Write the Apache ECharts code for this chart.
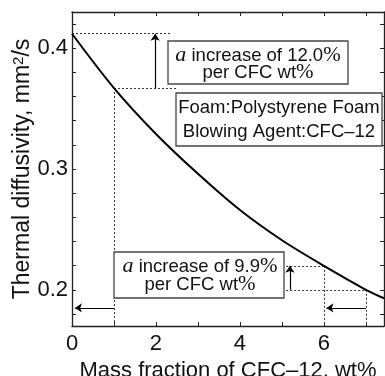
<!DOCTYPE html>
<html>
<head>
<meta charset="utf-8">
<script src="https://cdn.jsdelivr.net/npm/echarts@6/dist/echarts.min.js"></script>
<style>
html, body { margin: 0; padding: 0; background: #fff; }
#chart { width: 385px; height: 376px; }
</style>
</head>
<body>
<div id="chart"></div>
<script>
// values
var massFraction = [0, 1, 2, 3, 4, 5, 6, 7, 7.43];
var diffusivity = [0.412, 0.367, 0.329, 0.296, 0.266, 0.241, 0.2198, 0.200, 0.193];
var xTickValues = [1, 2, 3, 4, 5, 6, 7];
var xLabelValues = [0, 2, 4, 6];
var yTickValues = [0.18, 0.2, 0.22, 0.24, 0.26, 0.28, 0.3, 0.32, 0.34, 0.36, 0.38, 0.4, 0.42];
var yLabelValues = [0.2, 0.3, 0.4];

var xMin = 0, xMax = 7.43, yMin = 0.17, yMax = 0.43;
var arrowLevel = 0.185;

var chart = echarts.init(document.getElementById('chart'), null, { renderer: 'canvas' });

var d0 = diffusivity[0], d1 = diffusivity[1], d6 = diffusivity[6], d7 = diffusivity[7];

// dotted guide lines
var dotted = [
	[[0, d0], [2.38, d0]],
	[[1, d1], [2.5, d1]],
	[[1, d1], [1, yMin]],
	[[5.1, d6], [6, d6]],
	[[5.1, d7], [7, d7]],
	[[6, d6], [6, yMin]],
	[[7, d7], [7, yMin]]
];
// arrows
var arrows = [
	[[1.98, d1], [1.98, d0]],
	[[5.19, d7], [5.19, d6]],
	[[1, arrowLevel], [0.07, arrowLevel]],
	[[7, arrowLevel], [6.06, arrowLevel]]
];

function toMark(list) {
	return list.map(function (seg) {
		return [{ coord: seg[0] }, { coord: seg[1] }];
	});
}

var curve = massFraction.map(function (x, i) { return [x, diffusivity[i]]; });

var sans = 'Liberation Sans, Arial, sans-serif';
var serif = 'Liberation Serif, Times New Roman, serif';
var ink = '#111';

function frameAxis(pos, isX) {
	return {
		type: 'value',
		position: pos,
		min: isX ? xMin : yMin,
		max: isX ? xMax : yMax,
		axisLine: { show: true, onZero: false, lineStyle: { color: '#222', width: 1.3 } },
		axisTick: { show: true, inside: true, length: 4, customValues: isX ? xTickValues : yTickValues, lineStyle: { color: '#222', width: 1 } },
		axisLabel: { show: false },
		splitLine: { show: false }
	};
}

var bottomX = frameAxis('bottom', true);
bottomX.axisLabel = {
	show: true, customValues: xLabelValues, fontFamily: sans, fontSize: 22, color: ink, margin: 7
};
bottomX.name = 'Mass fraction of CFC\u201312, wt%';
bottomX.nameLocation = 'middle';
bottomX.nameGap = 34;
bottomX.nameMoveOverlap = false;
bottomX.nameTextStyle = { fontFamily: sans, fontSize: 22, color: ink };

var leftY = frameAxis('left', false);
leftY.axisLabel = {
	show: true, customValues: yLabelValues, fontFamily: sans, fontSize: 22, color: ink, margin: 4,
	formatter: function (v) { return v.toFixed(1); }
};
leftY.name = 'Thermal diffusivity, mm{sup|2}/s';
leftY.nameLocation = 'middle';
leftY.nameGap = 38;
leftY.nameMoveOverlap = false;
leftY.nameTextStyle = {
	fontFamily: sans, fontSize: 23, color: ink,
	rich: { sup: { fontFamily: sans, fontSize: 15, color: ink, verticalAlign: 'top', lineHeight: 15 } }
};

var topX = frameAxis('top', true);
var rightY = frameAxis('right', false);

function box(x, y, w, h) {
	return {
		type: 'rect', shape: { x: x, y: y, width: w, height: h },
		style: { fill: '#fff', stroke: '#444', lineWidth: 1.3 }, z: 10
	};
}
function label(x, y, text, lh) {
	return {
		type: 'text', x: x, y: y, z: 11,
		style: {
			text: text, align: 'center', verticalAlign: 'middle',
			fontFamily: sans, fontSize: 18.5, fill: ink, lineHeight: lh,
			rich: {
				i: { fontFamily: serif, fontStyle: 'italic', fontSize: 22, lineHeight: lh, fill: ink },
				p: { fontFamily: serif, fontSize: 21, lineHeight: lh, fill: ink },
				n: { fontFamily: sans, fontSize: 18.5, lineHeight: lh, fill: ink }
			}
		}
	};
}

var option = {
	backgroundColor: '#fff',
	animation: false,
	grid: { left: 72, top: 12, right: 1, bottom: 50, containLabel: false, outerBoundsMode: 'none' },
	xAxis: [bottomX, topX],
	yAxis: [leftY, rightY],
	series: [
		{
			type: 'line', data: curve, smooth: 0.3, showSymbol: false, silent: true,
			lineStyle: { color: '#000', width: 2 }, z: 5
		},
		{
			type: 'line', data: [], silent: true,
			markLine: {
				silent: true, symbol: ['none', 'none'], label: { show: false },
				lineStyle: { color: '#333', width: 1, type: [2, 2] },
				emphasis: { disabled: true },
				data: toMark(dotted)
			}
		},
		{
			type: 'line', data: [], silent: true,
			markLine: {
				silent: true, symbol: ['none', 'arrow'], symbolSize: 7, label: { show: false },
				lineStyle: { color: '#000', width: 1.2, type: 'solid' },
				emphasis: { disabled: true },
				data: toMark(arrows)
			}
		}
	],
	graphic: [
		box(168, 41, 180, 43),
		label(258, 64, '{i|a} increase of 12.0{p|%}\n{n|per CFC wt}{p|%}', 17),
		box(176, 93, 206, 53),
		label(279, 120, 'Foam:Polystyrene Foam\nBlowing Agent:CFC\u201312', 24),
		box(114, 252, 170, 46),
		label(200, 275.5, '{i|a} increase of 9.9{p|%}\n{n|per CFC wt}{p|%}', 18)
	]
};

chart.setOption(option);
</script>
</body>
</html>
